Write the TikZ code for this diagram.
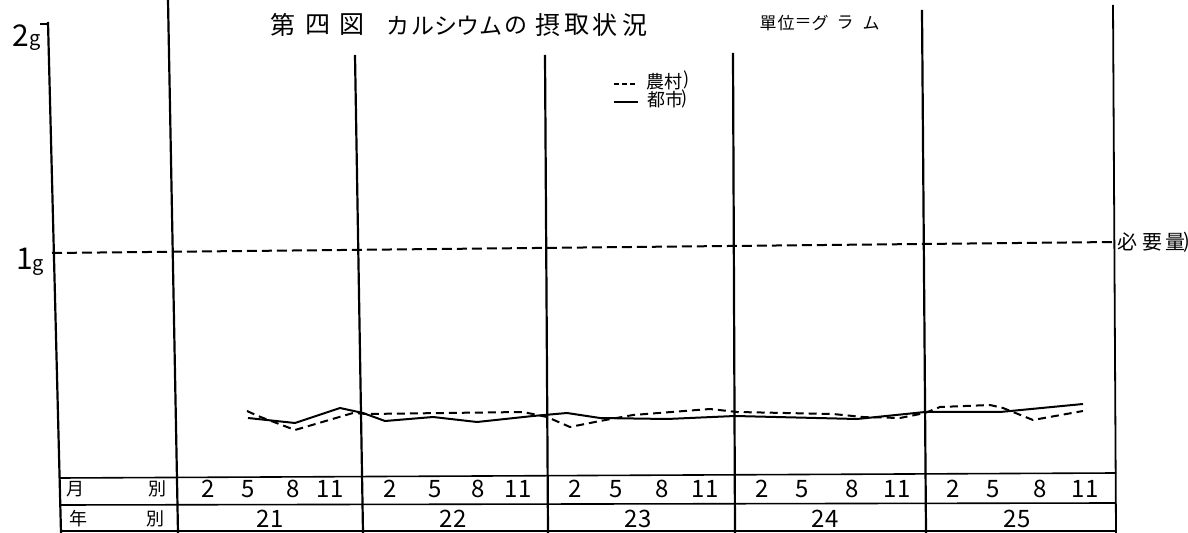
\documentclass[tikz,border=0pt]{standalone}
\usepackage{fontspec}
\setmainfont{Noto Sans CJK JP}
\begin{document}
\begin{tikzpicture}[x=0.5pt,y=-0.5pt,
  grid/.style={line width=1.1pt,black},
  tbl/.style={line width=0.8pt,black},
  need/.style={line width=1pt,dash pattern=on 5pt off 2.5pt},
  city/.style={line width=1pt,line join=round},
  rural/.style={line width=1pt,line join=round,dash pattern=on 4pt off 2.5pt},
  ttl/.style={font=\fontsize{12.5}{12.5}\selectfont,inner sep=0pt},
  kana/.style={font=\fontsize{11.5}{11.5}\selectfont,inner sep=0pt},
  unit/.style={font=\fontsize{8.5}{8.5}\selectfont,inner sep=0pt},
  leg/.style={font=\fontsize{9}{9}\selectfont,inner sep=0pt},
  num/.style={font=\fontsize{12}{12}\selectfont,inner sep=0pt},
  hdr/.style={font=\fontsize{9}{9}\selectfont,inner sep=0pt},
  axl/.style={font=\fontsize{15}{15}\selectfont,inner sep=0pt},
  axg/.style={font=\fontsize{10}{10}\selectfont,inner sep=0pt},
  side/.style={font=\fontsize{10}{10}\selectfont,inner sep=0pt}
]
\fill[white] (0,0) rectangle (1188,533);
\useasboundingbox (0,0) rectangle (1188,533);

% vertical grid lines
\draw[grid] (48,22) -- (61,533);
\draw[grid] (168,0) -- (178,533);
\draw[grid] (355,55) -- (363,533);
\draw[grid] (545,55) -- (548,533);
\draw[grid] (733,53) -- (735,533);
\draw[grid] (922,10) -- (926,533);
\draw[grid,line width=0.9pt] (1113,5) -- (1116,533);
\draw[grid] (40,24) -- (48,24);

% required level 1g
\draw[need] (52,253) -- (1115,242);

% table lines
\draw[tbl] (60,478) -- (1116,473);
\draw[tbl] (60,505) -- (1116,503);
\draw[tbl] (61,531) -- (1116,531);

% axis labels
\node[axl] (two) at (21,36) {2};
\node[axg] (gtwo) at (35,42) {g};
\node[axl] (one) at (25,259) {1};
\node[axg] (gone) at (38,267) {g};

% title
\foreach \c/\x [count=\i] in {第/283,四/318,図/352,摂/548,取/577,状/605,況/635}
  \node[ttl] (t\i) at (\x,25) {\c};
\foreach \c/\x [count=\i] in {カ/398,ル/423,シ/446,ウ/468,ム/491,の/516}
  \node[kana] (k\i) at (\x,26) {\c};
\foreach \c/\x [count=\i] in {單/768,位/786,＝/803,グ/820,ラ/845,ム/871}
  \node[unit] (u\i) at (\x,23) {\c};

% legend
\draw[line width=0.8pt,dash pattern=on 2.5pt off 1.5pt] (614,84) -- (638,84);
\node[leg] (lr) at (664,82) {農村};
\node[leg] (lrp) at (687,80) {)};
\draw[line width=1pt] (614,102) -- (638,102);
\node[leg] (lc) at (665,100) {都市};
\node[leg] (lcp) at (685,99) {)};

% need label
\foreach \c/\x [count=\i] in {必/1127,要/1152,量/1175,)/1187}
  \node[side] (s\i) at (\x,242) {\c};

% data: city (solid)
\draw[city] plot coordinates {(248,418) (295,423) (340,408) (363,413) (385,421) (433,417) (477,422) (533,416) (567,413) (600,418) (667,419) (735,416) (857,419) (925,412) (1000,412) (1083,404)};
% data: rural (dashed)
\draw[rural] plot coordinates {(247,411) (258,416) (295,430) (353,413) (367,414) (523,412) (547,417) (570,427) (600,421) (633,415) (710,409) (737,412) (833,414) (863,417) (900,418) (925,413) (940,407) (990,405) (1003,408) (1033,420) (1083,411)};

% table text
\node[hdr] (m1) at (75,489) {月};
\node[hdr] (m2) at (157,489) {別};
\node[hdr] (y1) at (78,519) {年};
\node[hdr] (y2) at (155,519) {別};
\foreach \m/\x [count=\i] in {2/208,5/248,8/293,11/330,2/390,5/435,8/478,11/518,2/575,5/616,8/662,11/705,2/762,5/802,8/852,11/897,2/953,5/993,8/1040,11/1085}
  \node[num] (mo\i) at (\x,489) {\m};
\foreach \yy/\x [count=\i] in {21/270,22/453,23/638,24/825,25/1017}
  \node[num] (yr\i) at (\x,519) {\yy};
\end{tikzpicture}
\end{document}
